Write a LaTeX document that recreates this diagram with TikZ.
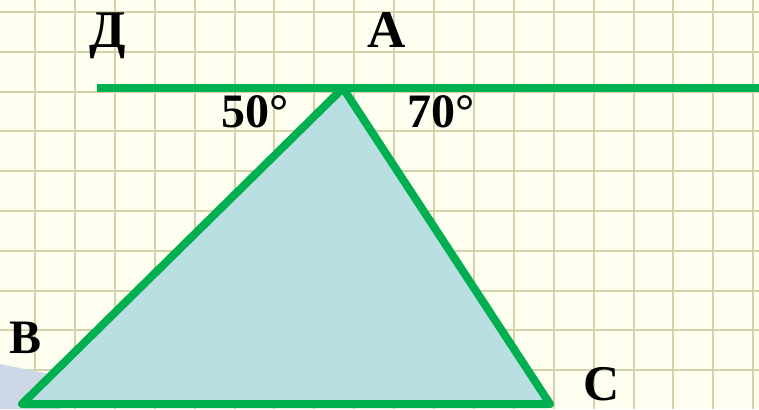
\documentclass[tikz,border=0pt]{standalone}
\usepackage{fontspec}
\setmainfont{Liberation Serif}
\usepackage{xcolor}
\usetikzlibrary{positioning}
\pgfdeclarelayer{background}
\pgfdeclarelayer{edgelayer}
\pgfdeclarelayer{nodelayer}
\pgfsetlayers{background,edgelayer,nodelayer,main}
\definecolor{paper}{RGB}{255,255,240}
\definecolor{gridline}{RGB}{210,210,172}
\definecolor{linegreen}{RGB}{0,176,80}
\definecolor{trifill}{RGB}{185,223,227}
\definecolor{slideblue}{RGB}{205,216,230}
\tikzstyle{none}=[inner sep=0mm]
\tikzstyle{grid line}=[draw=gridline,line width=1pt]
\tikzstyle{green edge}=[draw=linegreen,line width=4pt,line join=round]
\tikzstyle{big label}=[inner sep=0mm,anchor=base,font=\bfseries\fontsize{26.5}{30}\selectfont]
\tikzstyle{small label}=[inner sep=0mm,anchor=base,font=\bfseries\fontsize{24}{28}\selectfont]

\begin{document}
\begin{tikzpicture}[x=0.5pt,y=-0.5pt]
	\useasboundingbox (0,0) rectangle (759,409);
	\begin{pgfonlayer}{background}
		\fill[paper] (0,0) rectangle (759,409);
		\foreach \i in {0,...,18}
			\draw[style=grid line] (35+39.9*\i,0) -- (35+39.9*\i,409);
		\foreach \j in {0,...,9}
			\draw[style=grid line] (0,12+39.8*\j) -- (759,12+39.8*\j);
		\fill[slideblue] (0,364) .. controls (20,368) and (35,371) .. (50,374) -- (60,409) -- (0,409) -- cycle;
	\end{pgfonlayer}
	\begin{pgfonlayer}{nodelayer}
		\coordinate (a) at (343,88);
		\coordinate (b) at (22,404);
		\coordinate (c) at (550,404);
		\coordinate (d) at (97,88);
		\coordinate (e) at (762,88);
		\node [style=big label] (dl) at (108,47) {Д};
		\node [style=big label] (al) at (387,47) {A};
		\node [style=small label] (x50) at (255,127) {50°};
		\node [style=small label] (x70) at (441,127) {70°};
		\node [style=small label] (bl) at (26,353) {B};
		\node [style=big label,font=\bfseries\fontsize{25}{28}\selectfont] (cl) at (602,400) {C};
	\end{pgfonlayer}
	\begin{pgfonlayer}{edgelayer}
		\fill[trifill] (a) -- (b) -- (c) -- cycle;
		\draw[style=green edge] (d) -- (e);
		\draw[style=green edge] (a) -- (b) -- (c) -- cycle;
	\end{pgfonlayer}
\end{tikzpicture}
\end{document}
